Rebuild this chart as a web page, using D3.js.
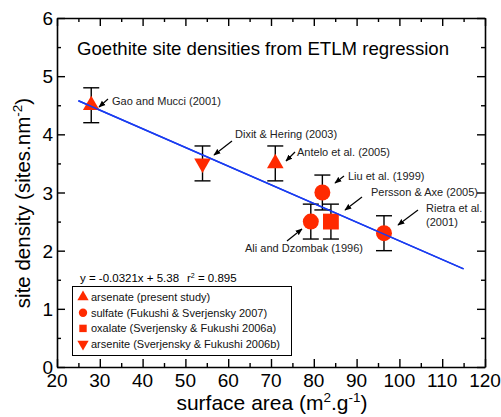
<!DOCTYPE html>
<html>
<head>
<meta charset="utf-8">
<script src="https://cdn.jsdelivr.net/npm/d3@7"></script>
<style>
  html, body { margin: 0; padding: 0; background: #fff; }
  svg { display: block; font-family: "Liberation Sans", Arial, sans-serif; }
</style>
</head>
<body>
<svg id="chart" width="501" height="417"></svg>
<script>
// Site densities of goethite from ETLM regression, by surface area
const studies   = ["Gao and Mucci (2001)", "Dixit & Hering (2003)", "Antelo et al. (2005)",
                   "Liu et al. (1999)", "Ali and Dzombak (1996)", "Persson & Axe (2005)", "Rietra et al. (2001)"];
const ligands   = ["arsenate", "arsenite", "arsenate", "sulfate", "sulfate", "oxalate", "sulfate"];
const surfArea  = [28, 54, 71, 82, 79.3, 84, 96.4];
const density   = [4.5, 3.5, 3.5, 3.0, 2.5, 2.5, 2.3];
const errLow    = [4.2, 3.2, 3.2, 2.7, 2.2, 2.2, 2.0];
const errHigh   = [4.8, 3.8, 3.8, 3.3, 2.8, 2.8, 2.6];

// Regression fit: y = -0.0321x + 5.38
const fitSlope = -0.0321, fitIntercept = 5.38;
const fitRange = [25, 115];

const legendKeys   = ["arsenate", "sulfate", "oxalate", "arsenite"];
const legendLabels = ["arsenate (present study)", "sulfate (Fukushi & Sverjensky 2007)",
                      "oxalate (Sverjensky & Fukushi 2006a)", "arsenite (Sverjensky & Fukushi 2006b)"];

const xTicks = [20, 30, 40, 50, 60, 70, 80, 90, 100, 110, 120];
const yTicks = [0, 1, 2, 3, 4, 5, 6];

const RED = "#ff2a00", BLUE = "#1a3cf0";

const svg = d3.select("#chart");
const x = d3.scaleLinear().domain([20, 120]).range([57, 485]);
const y = d3.scaleLinear().domain([0, 6]).range([367, 18]);

const symbolFor = {
  arsenate: d3.symbolTriangle,
  sulfate: d3.symbolCircle,
  oxalate: d3.symbolSquare,
  arsenite: d3.symbolTriangle
};
function markerPath(kind, size) {
  return d3.symbol().type(symbolFor[kind]).size(size)();
}
const markerSize = { arsenate: 120, sulfate: 200, oxalate: 250, arsenite: 120 };

// Frame axes with inward ticks on all four sides
const minorX = d3.range(25, 120, 10);
const minorY = d3.range(0.5, 6, 1);
const axisG = svg.append("g");

function drawAxis(axisFn, scale, transform, major, minor) {
  axisG.append("g").attr("transform", transform)
    .call(axisFn(scale).tickValues(major).tickSizeInner(-8).tickSizeOuter(0).tickFormat(""))
    .call(g => g.selectAll("line").attr("stroke-width", 1.4));
  axisG.append("g").attr("transform", transform)
    .call(axisFn(scale).tickValues(minor).tickSizeInner(-4).tickSizeOuter(0).tickFormat(""))
    .call(g => g.select(".domain").remove())
    .call(g => g.selectAll("line").attr("stroke-width", 1.4));
}
drawAxis(d3.axisBottom, x, `translate(0,${y(0)})`, xTicks, minorX);
drawAxis(d3.axisTop, x, `translate(0,${y(6)})`, xTicks, minorX);
drawAxis(d3.axisLeft, y, `translate(${x(20)},0)`, yTicks, minorY);
drawAxis(d3.axisRight, y, `translate(${x(120)},0)`, yTicks, minorY);
axisG.selectAll(".domain").attr("stroke", "#000").attr("stroke-width", 1.6);

// Tick labels
svg.append("g").selectAll("text").data(xTicks).join("text")
  .attr("x", d => x(d)).attr("y", y(0) + 20)
  .attr("text-anchor", "middle").attr("font-size", 19).text(d => d);
svg.append("g").selectAll("text").data(yTicks).join("text")
  .attr("x", x(20) - 4).attr("y", d => y(d) + 7)
  .attr("text-anchor", "end").attr("font-size", 19).text(d => d);

// Axis titles
const xt = svg.append("text").attr("x", 272).attr("y", 410)
  .attr("text-anchor", "middle").attr("font-size", 21);
xt.append("tspan").text("surface area (m");
xt.append("tspan").attr("font-size", 13.5).attr("dy", -8).text("2");
xt.append("tspan").attr("dy", 8).text(".g");
xt.append("tspan").attr("font-size", 13.5).attr("dy", -8).text("-1");
xt.append("tspan").attr("dy", 8).text(")");

const yt = svg.append("text").attr("transform", "translate(30,203) rotate(-90)")
  .attr("text-anchor", "middle").attr("font-size", 20.5);
yt.append("tspan").text("site density (sites.nm");
yt.append("tspan").attr("font-size", 13.5).attr("dy", -8).text("-2");
yt.append("tspan").attr("dy", 8).text(")");

// Chart title
svg.append("text").attr("x", 77).attr("y", 55).attr("font-size", 18.6)
  .text("Goethite site densities from ETLM regression");

// Regression line
const fitLine = () => svg.append("line")
  .attr("x1", x(fitRange[0])).attr("y1", y(fitSlope * fitRange[0] + fitIntercept))
  .attr("x2", x(fitRange[1])).attr("y2", y(fitSlope * fitRange[1] + fitIntercept))
  .attr("stroke", BLUE).attr("stroke-width", 1.4);
fitLine();

// Error bars
const idx = d3.range(studies.length);
const eb = svg.append("g").attr("stroke", "#000").attr("stroke-width", 1.4);
eb.selectAll(".v").data(idx).join("line")
  .attr("x1", i => x(surfArea[i])).attr("x2", i => x(surfArea[i]))
  .attr("y1", i => y(errLow[i])).attr("y2", i => y(errHigh[i]));
eb.selectAll(".lo").data(idx).join("line")
  .attr("x1", i => x(surfArea[i]) - 8).attr("x2", i => x(surfArea[i]) + 8)
  .attr("y1", i => y(errLow[i])).attr("y2", i => y(errLow[i]));
eb.selectAll(".hi").data(idx).join("line")
  .attr("x1", i => x(surfArea[i]) - 8).attr("x2", i => x(surfArea[i]) + 8)
  .attr("y1", i => y(errHigh[i])).attr("y2", i => y(errHigh[i]));

// Markers
svg.append("g").selectAll("path").data(idx).join("path")
  .attr("d", i => markerPath(ligands[i], markerSize[ligands[i]]))
  .attr("transform", i => `translate(${x(surfArea[i])},${y(density[i])})` +
        (ligands[i] === "arsenite" ? " rotate(180)" : ""))
  .attr("fill", RED);

// Fit line redrawn on top so it shows across the markers
fitLine();

// Study annotations with arrows
const defs = svg.append("defs");
defs.append("marker").attr("id", "arrow").attr("viewBox", "0 0 10 10")
  .attr("refX", 9).attr("refY", 5).attr("markerWidth", 7).attr("markerHeight", 7)
  .attr("orient", "auto-start-reverse").attr("markerUnits", "userSpaceOnUse")
  .append("path").attr("d", "M0,1 L10,5 L0,9 Z").attr("fill", "#000");

const notes = [
  { lines: ["Gao and Mucci (2001)"], tx: 112, ty: 105, a: [108, 99, 99, 107] },
  { lines: ["Dixit & Hering (2003)"], tx: 235, ty: 138, a: [232, 141, 214, 155] },
  { lines: ["Antelo et al. (2005)"], tx: 297, ty: 156, a: [295, 152, 286, 161] },
  { lines: ["Liu et al. (1999)"], tx: 348, ty: 180, a: [344, 176, 335, 183] },
  { lines: ["Persson & Axe (2005)"], tx: 371, ty: 196, a: [362, 197, 345, 210] },
  { lines: ["Rietra et al.", "(2001)"], tx: 426, ty: 212, a: [418, 210, 398, 225] },
  { lines: ["Ali and Dzombak (1996)"], tx: 245, ty: 252, a: [287, 241, 302, 229] }
];
const ng = svg.append("g");
notes.forEach(n => {
  const t = ng.append("text").attr("x", n.tx).attr("y", n.ty).attr("font-size", 11).attr("fill", "#222");
  n.lines.forEach((l, k) => t.append("tspan").attr("x", n.tx).attr("dy", k ? 14 : 0).text(l));
  ng.append("line").attr("x1", n.a[0]).attr("y1", n.a[1]).attr("x2", n.a[2]).attr("y2", n.a[3])
    .attr("stroke", "#000").attr("stroke-width", 1.2).attr("marker-end", "url(#arrow)");
});

// Fit equation
const eq = svg.append("text").attr("x", 80).attr("y", 282).attr("font-size", 11.5);
eq.append("tspan").text("y = -0.0321x + 5.38");
eq.append("tspan").attr("x", 187).text("r");
eq.append("tspan").attr("font-size", 7).attr("dy", -4).text("2");
eq.append("tspan").attr("dy", 4).text(" = 0.895");

// Legend
const lg = svg.append("g");
lg.append("rect").attr("x", 72.5).attr("y", 286.5).attr("width", 219).attr("height", 69)
  .attr("fill", "#fff").attr("stroke", "#000").attr("stroke-width", 1);
legendKeys.forEach((k, i) => {
  const cy = 297 + i * 15.7;
  lg.append("path").attr("d", markerPath(k, 55))
    .attr("transform", `translate(83,${cy})` + (k === "arsenite" ? " rotate(180)" : ""))
    .attr("fill", RED);
  lg.append("text").attr("x", 91).attr("y", cy + 4).attr("font-size", 11).attr("fill", "#111")
    .text(legendLabels[i]);
});
</script>
</body>
</html>
